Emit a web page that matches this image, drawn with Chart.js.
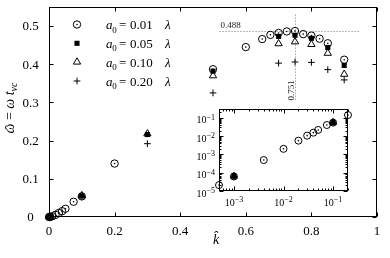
<!DOCTYPE html>
<html><head><meta charset="utf-8">
<script src="https://cdn.jsdelivr.net/npm/chart.js@4.4.1/dist/chart.umd.min.js"></script>
<style>
html,body{margin:0;padding:0;background:#fff;}
#wrap{position:relative;width:390px;height:258px;overflow:hidden;}
#main{position:absolute;left:0;top:0;}
#inset{position:absolute;left:180px;top:95px;}
</style></head><body>
<div id="wrap"><canvas id="main" width="390" height="258"></canvas><canvas id="inset" width="180" height="120"></canvas></div>
<script>
// ---- data ----
const kA = [0.0005, 0.001, 0.004, 0.01, 0.02, 0.03, 0.04, 0.05, 0.075, 0.1, 0.2, 0.5, 0.6, 0.65, 0.675, 0.7, 0.725, 0.75, 0.775, 0.8, 0.825, 0.85, 0.9];
const wA = [2.1e-5, 6.2e-5, 4.9e-4, 2.0e-3, 5.6e-3, 0.0105, 0.0153, 0.0216, 0.040, 0.054, 0.140, 0.387, 0.445, 0.466, 0.477, 0.482, 0.486, 0.487, 0.479, 0.475, 0.467, 0.455, 0.412];
const kB = [0.001, 0.1, 0.3, 0.5, 0.7, 0.75, 0.8, 0.85, 0.9];
const wB = [6.5e-5, 0.055, 0.216, 0.382, 0.473, 0.476, 0.468, 0.444, 0.397];
const wC = [6.5e-5, 0.056, 0.218, 0.370, 0.454, 0.459, 0.452, 0.429, 0.374];
const wD = [6.0e-5, 0.053, 0.192, 0.325, 0.403, 0.406, 0.405, 0.386, 0.359];
const seriesA0 = ['0.01', '0.05', '0.10', '0.20'];
const xTicks = [0, 0.2, 0.4, 0.6, 0.8, 1];
const xTickLabels = ['0', '0.2', '0.4', '0.6', '0.8', '1'];
const yTicks = [0, 0.1, 0.2, 0.3, 0.4, 0.5];
const yTickLabels = ['0', '0.1', '0.2', '0.3', '0.4', '0.5'];
const insetXMajor = [1e-3, 1e-2, 1e-1];
const insetXExp = ['−3', '−2', '−1'];
const insetYMajor = [1e-5, 1e-4, 1e-3, 1e-2, 1e-1];
const insetYExp = ['−5', '−4', '−3', '−2', '−1'];
const peakK = 0.751, peakW = 0.488;
const peakKLabel = '0.751', peakWLabel = '0.488';
const hLineSpan = [0.52, 0.95];
const vLineSpan = [0.305, 0.53];
const insetXRange = [5e-4, 0.2];
const insetYRange = [1e-5, 0.3];

const SERIF = '"Liberation Serif", "DejaVu Serif", serif';
const pts = (ks, ws) => ks.map((k, i) => ({x: k, y: ws[i]}));

function markerSets(r, filterFn) {
  const f = filterFn || (() => true);
  return [
    {data: pts(kA, wA).filter(f), pointStyle: 'circle', pointRadius: r.c, pointBorderWidth: 1, pointBorderColor: '#000', pointBackgroundColor: 'rgba(0,0,0,0)', showLine: false, clip: false},
    {data: pts(kA, wA).filter(f), pointStyle: 'circle', pointRadius: 0.8, pointBorderWidth: 0, pointBackgroundColor: '#000', showLine: false, clip: false},
    {data: pts(kB, wB).filter(f), pointStyle: 'rect', pointRadius: r.s, pointBorderWidth: 0, pointBackgroundColor: '#000', showLine: false, clip: false},
    {data: pts(kB, wC).filter(f), pointStyle: 'triangle', pointRadius: r.t, pointBorderWidth: 1, pointBorderColor: '#000', pointBackgroundColor: 'rgba(0,0,0,0)', showLine: false, clip: false},
    {data: pts(kB, wD).filter(f), pointStyle: 'cross', pointRadius: r.p, pointBorderWidth: 1, pointBorderColor: '#000', showLine: false, clip: false}
  ];
}
const R = {c: 3.7, s: 3.6, t: 4.2, p: 3.4};

function drawPieces(ctx, pieces, x, y) {
  let cx = x;
  const pos = [];
  for (const p of pieces) {
    ctx.font = p.f;
    if (p.x !== undefined) cx = x + p.x;
    ctx.fillText(p.t, cx, y + (p.dy || 0));
    const w = ctx.measureText(p.t).width;
    pos.push({x: cx, w: w});
    cx += w;
  }
  return pos;
}
function piecesWidth(ctx, pieces) {
  let w = 0;
  for (const p of pieces) { ctx.font = p.f; w += ctx.measureText(p.t).width; }
  return w;
}
function marker(ctx, style, x, y) {
  ctx.save();
  ctx.strokeStyle = '#000'; ctx.lineWidth = 1;
  ctx.fillStyle = style.fill;
  Chart.helpers.drawPoint(ctx, {pointStyle: style.ps, radius: style.r, borderWidth: style.bw, rotation: 0}, x, y);
  ctx.restore();
}

const mainPlugin = {
  id: 'mainDecor',
  beforeDatasetsDraw(chart) {
    const {ctx} = chart; const xs = chart.scales.x, ys = chart.scales.y;
    ctx.save();
    ctx.strokeStyle = '#777'; ctx.lineWidth = 1; ctx.setLineDash([1, 2]);
    const yh = Math.round(ys.getPixelForValue(peakW)) + 0.5;
    ctx.beginPath(); ctx.moveTo(xs.getPixelForValue(hLineSpan[0]), yh); ctx.lineTo(xs.getPixelForValue(hLineSpan[1]), yh); ctx.stroke();
    const xv = Math.round(xs.getPixelForValue(peakK)) + 0.5;
    ctx.beginPath(); ctx.moveTo(xv, ys.getPixelForValue(vLineSpan[1])); ctx.lineTo(xv, ys.getPixelForValue(vLineSpan[0])); ctx.stroke();
    ctx.setLineDash([]);
    ctx.fillStyle = '#222'; ctx.font = '9px ' + SERIF; ctx.textAlign = 'left'; ctx.textBaseline = 'alphabetic';
    ctx.fillText(peakWLabel, xs.getPixelForValue(hLineSpan[0]) + 1, yh - 4);
    ctx.translate(xv - 1.5, ys.getPixelForValue(vLineSpan[0]));
    ctx.rotate(-Math.PI / 2);
    ctx.fillText(peakKLabel, 0, 0);
    ctx.restore();
  },
  afterDraw(chart) {
    const {ctx, chartArea: ca} = chart; const xs = chart.scales.x, ys = chart.scales.y;
    ctx.save();
    ctx.strokeStyle = '#000'; ctx.lineWidth = 1;
    const L = Math.round(ca.left) + 0.5, T = Math.round(ca.top) + 0.5, Rr = Math.round(ca.right) - 0.5, B = Math.round(ca.bottom) - 0.5;
    ctx.strokeRect(L, T, Rr - L, B - T);
    ctx.beginPath();
    for (const v of xTicks) {
      const px = Math.round(xs.getPixelForValue(v)) + 0.5;
      ctx.moveTo(px, B); ctx.lineTo(px, B - 4);
      ctx.moveTo(px, T); ctx.lineTo(px, T + 4);
    }
    for (const v of yTicks) {
      const py = Math.round(ys.getPixelForValue(v)) + 0.5;
      ctx.moveTo(L, py); ctx.lineTo(L + 4, py);
      ctx.moveTo(Rr, py); ctx.lineTo(Rr - 4, py);
    }
    ctx.stroke();

    // tick labels
    ctx.fillStyle = '#000'; ctx.font = '13px ' + SERIF; ctx.textBaseline = 'alphabetic'; ctx.textAlign = 'center';
    xTicks.forEach((v, i) => ctx.fillText(xTickLabels[i], xs.getPixelForValue(v), ca.bottom + 17.5));
    yTicks.forEach((v, i) => ctx.fillText(yTickLabels[i], 30.5, ys.getPixelForValue(v) + 4.3));

    // axis titles
    ctx.textAlign = 'left';
    ctx.font = 'italic 14px ' + SERIF;
    ctx.fillText('k\u0302', 216 - ctx.measureText('k').width / 2, 244);

    const yPieces = [
      {t: 'ω', f: 'italic 14px ' + SERIF},
      {t: ' = ', f: '14px ' + SERIF},
      {t: 'ω', f: 'italic 14px ' + SERIF},
      {t: ' ', f: '14px ' + SERIF},
      {t: 't', f: 'italic 14px ' + SERIF},
      {t: 'vc', f: 'italic 10px ' + SERIF, dy: 3}
    ];
    ctx.save();
    const w = piecesWidth(ctx, yPieces);
    ctx.translate(14, 108 + w / 2);
    ctx.rotate(-Math.PI / 2);
    const pos = drawPieces(ctx, yPieces, 0, 0);
    ctx.font = '14px ' + SERIF;
    const hw = ctx.measureText('ˆ').width;
    ctx.fillText('ˆ', pos[0].x + pos[0].w / 2 - hw / 2 + 1, 1);
    ctx.restore();

    // legend
    const rowsY = [24.5, 43.3, 62, 81];
    const styles = [
      {ps: 'circle', r: R.c, bw: 1, fill: 'rgba(0,0,0,0)'},
      {ps: 'rect', r: R.s, bw: 0, fill: '#000'},
      {ps: 'triangle', r: R.t, bw: 1, fill: 'rgba(0,0,0,0)'},
      {ps: 'cross', r: R.p, bw: 1, fill: '#000'}
    ];
    for (let i = 0; i < 4; i++) {
      const y = rowsY[i];
      marker(ctx, styles[i], 77, y);
      if (i === 0) { ctx.fillStyle = '#000'; ctx.beginPath(); ctx.arc(77, y, 0.8, 0, Math.PI * 2); ctx.fill(); }
      ctx.fillStyle = '#000';
      drawPieces(ctx, [
        {t: 'a', f: 'italic 13px ' + SERIF, x: 0},
        {t: '0', f: '9px ' + SERIF, dy: 3.5, x: 6.3},
        {t: '=', f: '13px ' + SERIF, x: 13},
        {t: seriesA0[i], f: '13px ' + SERIF, x: 24},
        {t: 'λ', f: 'italic 13px ' + SERIF, x: 59}
      ], 106, y + 4.5);
    }
    ctx.restore();
  }
};

new Chart(document.getElementById('main'), {
  type: 'scatter',
  data: {datasets: markerSets(R)},
  options: {
    responsive: false, animation: false, devicePixelRatio: 1, events: [],
    layout: {padding: {left: 0, top: 7, right: 13, bottom: 0}},
    plugins: {legend: {display: false}, tooltip: {enabled: false}},
    scales: {
      x: {type: 'linear', min: 0, max: 1,
        afterFit: s => { s.height = 41; },
        ticks: {display: false}, grid: {display: false, drawTicks: false}, border: {display: false}},
      y: {type: 'linear', min: 0, max: 0.55,
        afterFit: s => { s.width = 49; },
        ticks: {display: false}, grid: {display: false, drawTicks: false}, border: {display: false}}
    }
  },
  plugins: [mainPlugin]
});

// ---- inset ----
const insetPlugin = {
  id: 'insetDecor',
  beforeDatasetsDraw(chart) {
    const {ctx, chartArea: ca} = chart;
    ctx.save(); ctx.fillStyle = '#fff';
    ctx.fillRect(ca.left, ca.top, ca.right - ca.left, ca.bottom - ca.top);
    ctx.restore();
  },
  afterDraw(chart) {
    const {ctx, chartArea: ca} = chart; const xs = chart.scales.x, ys = chart.scales.y;
    ctx.save();
    ctx.strokeStyle = '#000'; ctx.lineWidth = 1;
    const L = Math.round(ca.left) + 0.5, T = Math.round(ca.top) + 0.5, Rr = Math.round(ca.right) - 0.5, B = Math.round(ca.bottom) - 0.5;
    ctx.strokeRect(L, T, Rr - L, B - T);
    ctx.beginPath();
    for (let e = -4; e <= -1; e++) {
      for (let m = 1; m <= 9; m++) {
        const v = m * Math.pow(10, e);
        if (v < insetXRange[0] * 0.999 || v > insetXRange[1] * 1.001) continue;
        const len = m === 1 ? 4 : 2;
        const px = Math.round(xs.getPixelForValue(v)) + 0.5;
        ctx.moveTo(px, B); ctx.lineTo(px, B - len);
        ctx.moveTo(px, T); ctx.lineTo(px, T + len);
      }
    }
    for (let e = -5; e <= -1; e++) {
      for (let m = 1; m <= 9; m++) {
        const v = m * Math.pow(10, e);
        if (v < insetYRange[0] * 0.999 || v > insetYRange[1] * 1.001) continue;
        const len = m === 1 ? 4 : 2;
        const py = Math.round(ys.getPixelForValue(v)) + 0.5;
        ctx.moveTo(L, py); ctx.lineTo(L + len, py);
        ctx.moveTo(Rr, py); ctx.lineTo(Rr - len, py);
      }
    }
    ctx.stroke();

    ctx.fillStyle = '#000'; ctx.textBaseline = 'alphabetic'; ctx.textAlign = 'left';
    const F10 = '10px ' + SERIF, FS = '8px ' + SERIF;
    insetXMajor.forEach((v, i) => {
      const px = xs.getPixelForValue(v);
      ctx.font = F10; const w1 = ctx.measureText('10').width;
      ctx.font = FS; const w2 = ctx.measureText(insetXExp[i]).width;
      const x0 = px - (w1 + w2) / 2;
      ctx.font = F10; ctx.fillText('10', x0, ca.bottom + 15);
      ctx.font = FS; ctx.fillText(insetXExp[i], x0 + w1, ca.bottom + 11);
    });
    insetYMajor.forEach((v, i) => {
      const py = ys.getPixelForValue(v);
      ctx.font = F10; const w1 = ctx.measureText('10').width;
      ctx.font = FS; const w2 = ctx.measureText(insetYExp[i]).width;
      const x0 = ca.left - 4 - w1 - w2;
      ctx.font = F10; ctx.fillText('10', x0, py + 5.5);
      ctx.font = FS; ctx.fillText(insetYExp[i], x0 + w1, py + 2);
    });
    ctx.restore();
  }
};

const inR = {c: 3.5, s: 3.5, t: 4.0, p: 3.3};
new Chart(document.getElementById('inset'), {
  type: 'scatter',
  data: {datasets: markerSets(inR, p => p.x >= insetXRange[0] && p.x <= insetXRange[1])},
  options: {
    responsive: false, animation: false, devicePixelRatio: 1, events: [],
    layout: {padding: {left: 0, top: 14, right: 12, bottom: 0}},
    plugins: {legend: {display: false}, tooltip: {enabled: false}},
    scales: {
      x: {type: 'logarithmic', min: insetXRange[0], max: insetXRange[1],
        afterFit: s => { s.height = 24; },
        ticks: {display: false}, grid: {display: false, drawTicks: false}, border: {display: false}},
      y: {type: 'logarithmic', min: insetYRange[0], max: insetYRange[1],
        afterFit: s => { s.width = 39; },
        ticks: {display: false}, grid: {display: false, drawTicks: false}, border: {display: false}}
    }
  },
  plugins: [insetPlugin]
});
</script>
</body></html>
